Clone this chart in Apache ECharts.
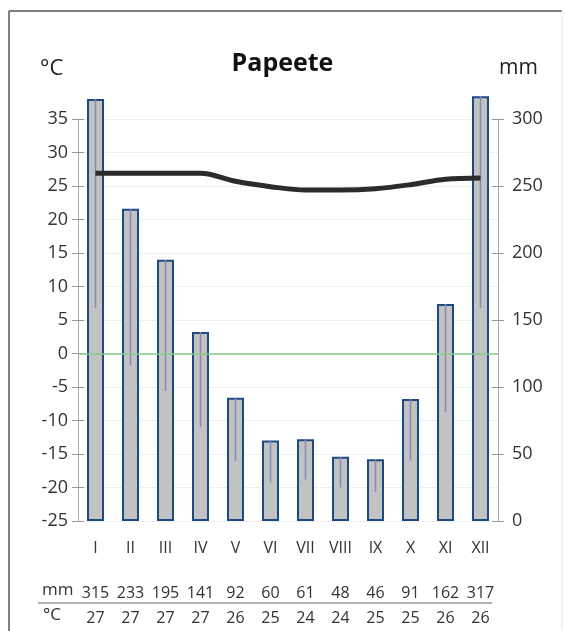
<!DOCTYPE html>
<html>
<head>
<meta charset="utf-8">
<script src="https://cdn.jsdelivr.net/npm/echarts@6/dist/echarts.min.js"></script>
<style>
html,body{margin:0;padding:0;background:#fff;}
#chart{width:565px;height:631px;}
</style>
</head>
<body>
<div id="chart"></div>
<script>
const months = ['I','II','III','IV','V','VI','VII','VIII','IX','X','XI','XII'];
const precip = [315,233,195,141,92,60,61,48,46,91,162,317];
const precipLow = [159,116,97,70,45,29,31,25,22,45,81,159];
const temp = [26.9,26.9,26.9,26.9,25.7,24.9,24.4,24.4,24.6,25.2,26.0,26.2];
const tempRounded = [27,27,27,27,26,25,24,24,25,25,26,26];

const FONT = '"Open Sans", "Noto Sans", sans-serif';
const chart = echarts.init(document.getElementById('chart'), null, {renderer:'canvas'});

const rangeData = months.map((m,i)=>[i, precipLow[i], precip[i]]);

const baseX = {
  type:'category', data: months, gridIndex:0, boundaryGap:true,
  axisLine:{show:false}, axisTick:{show:false}, splitLine:{show:false}
};

const option = {
  animation:false,
  backgroundColor:'#fff',
  textStyle:{fontFamily:FONT},
  grid:{left:78, right:67, top:119, bottom:110, containLabel:false},
  title:{
    text:'Papeete', left:'center', top:46,
    textStyle:{fontFamily:FONT, fontSize:25, fontWeight:'bold', color:'#111'}
  },
  xAxis:[
    Object.assign({}, baseX, {position:'bottom', axisLabel:{interval:0, hideOverlap:false, margin:19, fontSize:16, color:'#333', fontFamily:FONT}}),
    Object.assign({}, baseX, {data: precip.map(String), position:'bottom', axisLabel:{interval:0, hideOverlap:false, margin:64, fontSize:16, color:'#333', fontFamily:FONT}}),
    Object.assign({}, baseX, {data: tempRounded.map(String), position:'bottom', axisLabel:{interval:0, hideOverlap:false, margin:89, fontSize:16, color:'#333', fontFamily:FONT}})
  ],
  yAxis:[
    {type:'value', position:'left', min:-25, max:35, interval:5,
     axisLine:{show:true, lineStyle:{color:'#aaa', width:1}},
     axisTick:{show:true, inside:false, length:6, lineStyle:{color:'#999'}},
     axisLabel:{margin:10, fontSize:18, color:'#333', fontFamily:FONT},
     splitLine:{show:true, lineStyle:{color:'#dedede', type:'dotted', width:1}}},
    {type:'value', position:'right', min:0, max:300, interval:50,
     axisLine:{show:true, lineStyle:{color:'#aaa', width:1}},
     axisTick:{show:true, inside:false, length:6, lineStyle:{color:'#999'}},
     axisLabel:{margin:14, fontSize:18, color:'#333', fontFamily:FONT},
     splitLine:{show:false}},
    {type:'value', position:'left', min:-25, max:35, interval:5,
     axisLine:{show:false}, axisLabel:{show:false}, splitLine:{show:false},
     axisTick:{show:true, inside:true, length:6, lineStyle:{color:'#999'}}},
    {type:'value', position:'right', min:0, max:300, interval:50,
     axisLine:{show:false}, axisLabel:{show:false}, splitLine:{show:false},
     axisTick:{show:true, inside:true, length:6, lineStyle:{color:'#999'}}}
  ],
  series:[
    {type:'bar', name:'mm', xAxisIndex:0, yAxisIndex:1, data:precip, barWidth:17, clip:false, z:2,
     itemStyle:{color:'#c2c2c2', borderColor:'#1d4a85', borderWidth:2}},
    {type:'custom', name:'range', xAxisIndex:0, yAxisIndex:1, data:rangeData, z:3, clip:false,
     renderItem:function(params, api){
       const hi = api.coord([api.value(0), api.value(2)]);
       const lo = api.coord([api.value(0), api.value(1)]);
       return {type:'line', shape:{x1:hi[0], y1:hi[1], x2:lo[0], y2:lo[1]},
               style:{stroke:'#8f86b8', lineWidth:1.5}};
     }},
    {type:'line', name:'°C', xAxisIndex:0, yAxisIndex:0, data:temp, smooth:0.35, symbol:'none', z:4,
     lineStyle:{color:'#2b2b2b', width:5},
     markLine:{silent:true, symbol:'none', label:{show:false}, z:5,
       lineStyle:{color:'#86cc86', width:1.5, type:'solid', opacity:1},
       emphasis:{disabled:true},
       data:[{yAxis:0}]}}
  ],
  graphic:[
    {type:'line', shape:{x1:9, y1:11, x2:562, y2:11}, style:{stroke:'#555', lineWidth:1.5}, z:10},
    {type:'line', shape:{x1:9, y1:11, x2:9, y2:631}, style:{stroke:'#555', lineWidth:1.5}, z:10},
    {type:'line', shape:{x1:562, y1:11, x2:562, y2:631}, style:{stroke:'#e6e6e6', lineWidth:1}, z:10},
    {type:'text', left:40, top:58, style:{text:'°C', font:'22px '+FONT, fill:'#222'}},
    {type:'text', left:499, top:58, style:{text:'mm', font:'21px '+FONT, fill:'#222'}},
    {type:'text', left:42, top:582, style:{text:'mm', font:'17px '+FONT, fill:'#333'}},
    {type:'text', left:43, top:607, style:{text:'°C', font:'17px '+FONT, fill:'#333'}},
    {type:'line', shape:{x1:38, y1:603, x2:492, y2:603}, style:{stroke:'#666', lineWidth:1}}
  ]
};
chart.setOption(option);
</script>
</body>
</html>
